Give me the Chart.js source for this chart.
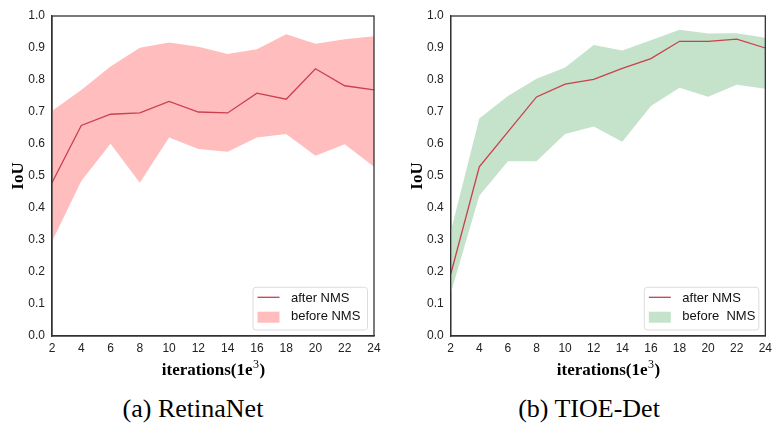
<!DOCTYPE html>
<html>
<head>
<meta charset="utf-8">
<script src="https://cdn.jsdelivr.net/npm/chart.js@4"></script>
<style>
  body { margin: 0; background: #fff; width: 777px; height: 425px; position: relative; overflow: hidden; }
  .painel { position: absolute; top: 0; height: 384px; }
  #painel-a { left: 0; width: 390px; }
  #painel-b { left: 390px; width: 387px; }
  .legenda { position: absolute; top: 394px; font-family: 'Liberation Serif', 'Times New Roman', serif; font-size: 26px; color: #000; white-space: nowrap; transform: translateX(-50%); }
</style>
</head>
<body>
<div class="painel" id="painel-a"><canvas id="grafico-a"></canvas></div>
<div class="painel" id="painel-b"><canvas id="grafico-b"></canvas></div>
<div class="legenda" style="left:193px">(a) RetinaNet</div>
<div class="legenda" style="left:589px">(b) TIOE-Det</div>
<script>
const iteracoes = ['2', '4', '6', '8', '10', '12', '14', '16', '18', '20', '22', '24'];
const ticksY = [0.0, 0.1, 0.2, 0.3, 0.4, 0.5, 0.6, 0.7, 0.8, 0.9, 1.0];

// RetinaNet
const retinaDepois = [0.479, 0.658, 0.693, 0.697, 0.733, 0.700, 0.697, 0.759, 0.740, 0.835, 0.782, 0.769];
const retinaAntesMax = [0.703, 0.769, 0.842, 0.901, 0.917, 0.904, 0.881, 0.896, 0.943, 0.913, 0.927, 0.937];
const retinaAntesMin = [0.295, 0.484, 0.601, 0.479, 0.620, 0.584, 0.576, 0.620, 0.631, 0.563, 0.599, 0.529];

// TIOE-Det
const tioeDepois = [0.193, 0.529, 0.638, 0.747, 0.787, 0.802, 0.836, 0.867, 0.921, 0.921, 0.928, 0.900];
const tioeAntesMax = [0.326, 0.680, 0.750, 0.804, 0.839, 0.909, 0.892, 0.924, 0.957, 0.945, 0.946, 0.932];
const tioeAntesMin = [0.133, 0.438, 0.546, 0.546, 0.631, 0.655, 0.607, 0.719, 0.776, 0.748, 0.785, 0.773];

const corLinha = '#c9404e';
const fonteTicks = { family: "'Liberation Sans', Arial, sans-serif", size: 12 };
const fonteTitulo = { family: "'Liberation Serif', 'Times New Roman', serif", size: 17, weight: 'bold' };
const serif = "'Liberation Serif', 'Times New Roman', serif";

// moldura do grafico, titulo do eixo x com expoente e legenda dentro da area
const molduraLegenda = {
  id: 'molduraLegenda',
  afterDraw(chart, args, opts) {
    const { ctx, chartArea: a } = chart;
    ctx.save();
    ctx.strokeStyle = '#333';
    ctx.lineWidth = 1.3;
    ctx.strokeRect(a.left, a.top, a.right - a.left, a.bottom - a.top);

    // titulo do eixo x: iterations(1e^3)
    const base = 'iterations(1e', exp = '3', fim = ')';
    ctx.fillStyle = '#000';
    ctx.textBaseline = 'alphabetic';
    ctx.font = 'bold 17px ' + serif;
    const wBase = ctx.measureText(base).width;
    const wFim = ctx.measureText(fim).width;
    ctx.font = '12px ' + serif;
    const wExp = ctx.measureText(exp).width;
    let tx = (a.left + a.right) / 2 - (wBase + wExp + wFim) / 2;
    const ty = a.bottom + 39;
    ctx.font = 'bold 17px ' + serif;
    ctx.fillText(base, tx, ty);
    tx += wBase + 0.5;
    ctx.font = '12px ' + serif;
    ctx.fillText(exp, tx, ty - 7);
    tx += wExp + 0.5;
    ctx.font = 'bold 17px ' + serif;
    ctx.fillText(fim, tx, ty);

    const w = 114.5, h = 42.7;
    const x = a.right - 6.5 - w, y = a.bottom - 6 - h;
    ctx.beginPath();
    ctx.roundRect(x, y, w, h, 3);
    ctx.fillStyle = 'rgba(255,255,255,0.85)';
    ctx.fill();
    ctx.strokeStyle = '#dcdcdc';
    ctx.lineWidth = 1;
    ctx.stroke();

    ctx.strokeStyle = corLinha;
    ctx.lineWidth = 1.3;
    ctx.beginPath();
    ctx.moveTo(x + 4.5, y + 10);
    ctx.lineTo(x + 26.5, y + 10);
    ctx.stroke();

    ctx.fillStyle = opts.corFaixa;
    ctx.fillRect(x + 4.5, y + 24.4, 22, 11);

    ctx.fillStyle = '#111';
    ctx.font = "13px 'Liberation Sans', Arial, sans-serif";
    ctx.textBaseline = 'middle';
    ctx.fillText('after NMS', x + 38, y + 11);
    ctx.fillText(opts.textoAntes, x + 38, y + 29.5);
    ctx.restore();
  }
};

function criarGrafico(id, depois, antesMax, antesMin, corFaixa, textoAntes, padEsq, larguraY, padDir) {
  return new Chart(document.getElementById(id).getContext('2d'), {
    type: 'line',
    data: {
      labels: iteracoes,
      datasets: [
        {
          label: 'after NMS',
          data: depois,
          borderColor: corLinha,
          borderWidth: 1.3,
          pointRadius: 0,
          tension: 0,
          fill: false,
          order: 0
        },
        {
          label: 'before NMS',
          data: antesMax,
          borderColor: corFaixa,
          borderWidth: 0,
          backgroundColor: corFaixa,
          pointRadius: 0,
          tension: 0,
          fill: '+1',
          order: 1
        },
        {
          label: 'before NMS min',
          data: antesMin,
          borderColor: corFaixa,
          borderWidth: 0,
          pointRadius: 0,
          tension: 0,
          fill: false,
          order: 1
        }
      ]
    },
    options: {
      responsive: true,
      maintainAspectRatio: false,
      animation: false,
      layout: { padding: { top: 16, left: padEsq, right: padDir, bottom: 0 } },
      plugins: {
        legend: { display: false },
        tooltip: { enabled: false },
        molduraLegenda: { corFaixa, textoAntes }
      },
      scales: {
        x: {
          offset: false,
          grid: { display: false, drawTicks: false },
          border: { display: true, color: '#333', width: 1.3 },
          ticks: { color: '#222', font: fonteTicks, padding: 5, maxRotation: 0, autoSkip: false },
          title: { display: false },
          afterFit: s => { s.height = 48; }
        },
        y: {
          min: 0,
          max: 1,
          afterBuildTicks: s => { s.ticks = ticksY.map(v => ({ value: v })); },
          grid: { display: false, drawTicks: false },
          border: { display: true, color: '#333', width: 1.3 },
          ticks: { color: '#222', font: fonteTicks, padding: 7, callback: v => v.toFixed(1) },
          title: { display: true, text: 'IoU', color: '#000', font: fonteTitulo, padding: { top: 8, bottom: 0 } },
          afterFit: s => { s.width = larguraY; }
        }
      }
    },
    plugins: [molduraLegenda]
  });
}

criarGrafico('grafico-a', retinaDepois, retinaAntesMax, retinaAntesMin, '#ffbdbd', 'before NMS', 0, 52, 16);
criarGrafico('grafico-b', tioeDepois, tioeAntesMax, tioeAntesMin, '#c5e2cb', 'before  NMS', 9, 51.7, 5);
</script>
</body>
</html>
